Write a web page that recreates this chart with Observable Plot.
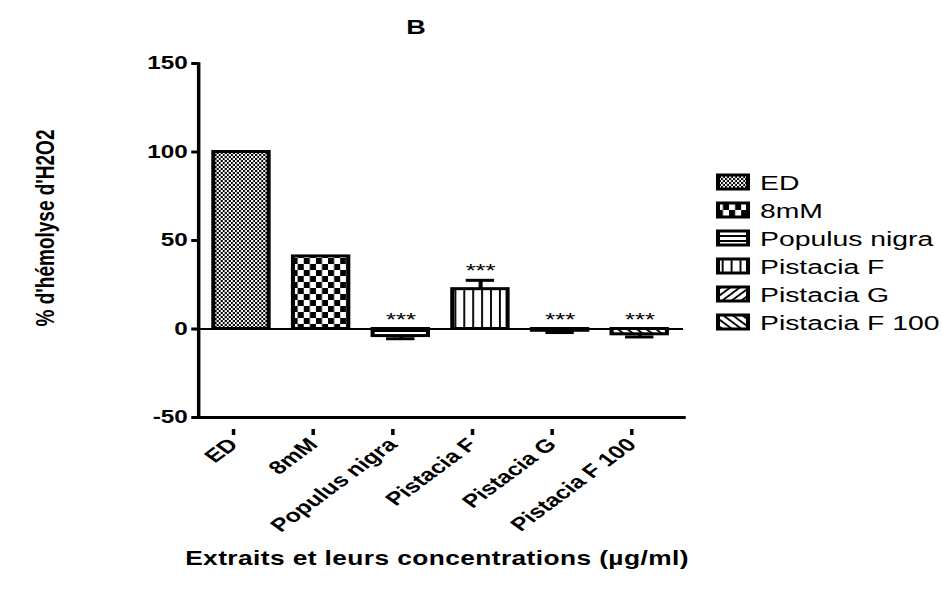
<!DOCTYPE html>
<html>
<head>
<meta charset="utf-8">
<script src="https://cdn.jsdelivr.net/npm/d3@7"></script>
<script src="https://cdn.jsdelivr.net/npm/@observablehq/plot@0.6"></script>
<style>
  html, body { margin: 0; padding: 0; background: #fff; }
  #wrap { position: relative; width: 943px; height: 596px; font-family: "Liberation Sans", Arial, sans-serif; }
  #overlay { position: absolute; left: 0; top: 0; pointer-events: none; }
</style>
</head>
<body>
<svg width="0" height="0" style="position:absolute">
  <defs>
    <pattern id="pat0" patternUnits="userSpaceOnUse" width="3" height="4">
      <rect width="3" height="4" fill="#000"/>
      <rect x="0" y="0" width="1.5" height="2" fill="#fff"/>
      <rect x="1.5" y="2" width="1.5" height="2" fill="#fff"/>
    </pattern>
    <pattern id="pat1" patternUnits="userSpaceOnUse" width="9" height="12">
      <rect width="9" height="12" fill="#000"/>
      <rect x="0" y="0" width="4.5" height="6" fill="#fff"/>
      <rect x="4.5" y="6" width="4.5" height="6" fill="#fff"/>
    </pattern>
    <pattern id="pat2" patternUnits="userSpaceOnUse" width="6" height="5">
      <rect width="6" height="5" fill="#fff"/>
      <rect x="0" y="0" width="6" height="2" fill="#000"/>
    </pattern>
    <pattern id="pat3" patternUnits="userSpaceOnUse" width="6.6" height="6">
      <rect width="6.6" height="6" fill="#fff"/>
      <rect x="0" y="0" width="1.4" height="6" fill="#000"/>
    </pattern>
    <pattern id="pat4" patternUnits="userSpaceOnUse" width="5" height="5" patternTransform="rotate(45)">
      <rect width="5" height="5" fill="#fff"/>
      <rect x="0" y="0" width="1.6" height="5" fill="#000"/>
    </pattern>
    <pattern id="pat5" patternUnits="userSpaceOnUse" width="5" height="5" patternTransform="rotate(-45)">
      <rect width="5" height="5" fill="#fff"/>
      <rect x="0" y="0" width="1.6" height="5" fill="#000"/>
    </pattern>
  </defs>
</svg>
<div id="wrap"></div>
<script>
// ---- data ----
const categories = ["ED", "8mM", "Populus nigra", "Pistacia F", "Pistacia G", "Pistacia F 100"];
const values = [100, 41, -4, 22.5, -1, -3];
const errors = [0, 0, 1.5, 5, 1, 1.5];
const significance = ["", "", "***", "***", "***", "***"];
const yTicks = [-50, 0, 50, 100, 150];
const patternIds = ["pat0", "pat1", "pat2", "pat3", "pat4", "pat5"];

const data = categories.map((c, i) => ({
  cat: c,
  value: values[i],
  err: errors[i],
  sig: significance[i],
  fill: `url(#${patternIds[i]})`,
  end: values[i] >= 0 ? values[i] + errors[i] : values[i] - errors[i],
  top: Math.max(0, values[i] >= 0 ? values[i] + errors[i] : 0)
}));

const FONT = '"Liberation Sans", Arial, sans-serif';
// The original graph is stretched horizontally; draw in a narrower space and stretch.
const SX = 1.35;
const W = 943, H = 596;
const IW = W / SX;

const chart = Plot.plot({
  width: IW,
  height: H,
  marginLeft: 198 / SX,
  marginRight: 260 / SX,
  marginTop: 63,
  marginBottom: 179,
  style: { fontFamily: FONT, color: "#000", background: "#fff" },
  x: { domain: categories, paddingInner: 0.3, paddingOuter: 0.15, label: null },
  y: { domain: [-50, 150], label: null },
  marks: [
    Plot.barY(data, { x: "cat", y: "value", fill: "fill", stroke: "#000", strokeWidth: 3 }),
    Plot.ruleY([0], { stroke: "#000", strokeWidth: 2 }),
    Plot.ruleX(data.filter(d => d.err > 0), { x: "cat", y1: "value", y2: "end", stroke: "#000", strokeWidth: 3 }),
    Plot.tickY(data.filter(d => d.err > 0), { x: "cat", y: "end", stroke: "#000", strokeWidth: 3, insetLeft: 10, insetRight: 10 }),
    Plot.text(data.filter(d => d.sig), { x: "cat", y: "top", text: "sig", dy: -9, fontSize: 19, fill: "#000" }),
    Plot.frame({ anchor: "left", stroke: "#000", strokeWidth: 2.6 }),
    Plot.frame({ anchor: "bottom", stroke: "#000", strokeWidth: 3 }),
    Plot.axisY({ ticks: yTicks, tickFormat: d => String(d), tickSize: 5, tickPadding: 3, fontSize: 18, fontWeight: "bold", strokeWidth: 3, label: null }),
    Plot.axisX({ tickRotate: -45, tickSize: 6, tickPadding: 6, fontSize: 18.5, fontWeight: "bold", strokeWidth: 2.6, label: null, dx: -6, dy: 12 })
  ]
});

chart.setAttribute("width", W);
chart.setAttribute("height", H);
chart.setAttribute("viewBox", `0 0 ${IW} ${H}`);
chart.setAttribute("preserveAspectRatio", "none");
chart.style.maxWidth = "none";

const wrap = document.getElementById("wrap");
wrap.appendChild(chart);

// ---- overlay: title, axis titles, legend (same stretched space) ----
const ov = d3.select(wrap).append("svg")
  .attr("id", "overlay")
  .attr("width", W).attr("height", H)
  .attr("viewBox", `0 0 ${IW} ${H}`)
  .attr("preserveAspectRatio", "none")
  .style("font-family", FONT);

ov.append("text")
  .attr("x", 416 / SX).attr("y", 34)
  .attr("text-anchor", "middle")
  .attr("font-size", 20).attr("font-weight", "bold")
  .text("B");

ov.append("text")
  .attr("transform", `translate(${45 / SX},228) rotate(-90)`)
  .attr("text-anchor", "middle")
  .attr("dominant-baseline", "central")
  .attr("font-size", 19).attr("font-weight", "bold")
  .text("% d'hémolyse d'H2O2");

ov.append("text")
  .attr("x", 437 / SX).attr("y", 565)
  .attr("text-anchor", "middle")
  .attr("font-size", 19.5).attr("font-weight", "bold")
  .attr("letter-spacing", 0.3)
  .text("Extraits et leurs concentrations (µg/ml)");

const lg = ov.append("g");
categories.forEach((c, i) => {
  const cy = 182 + i * 28;
  lg.append("rect")
    .attr("x", 718 / SX).attr("y", cy - 7).attr("width", 30 / SX).attr("height", 14)
    .attr("fill", `url(#${patternIds[i]})`)
    .attr("stroke", "#000").attr("stroke-width", 3);
  lg.append("text")
    .attr("x", 760 / SX).attr("y", cy)
    .attr("dominant-baseline", "central")
    .attr("font-size", 21)
    .text(c);
});
</script>
</body>
</html>
